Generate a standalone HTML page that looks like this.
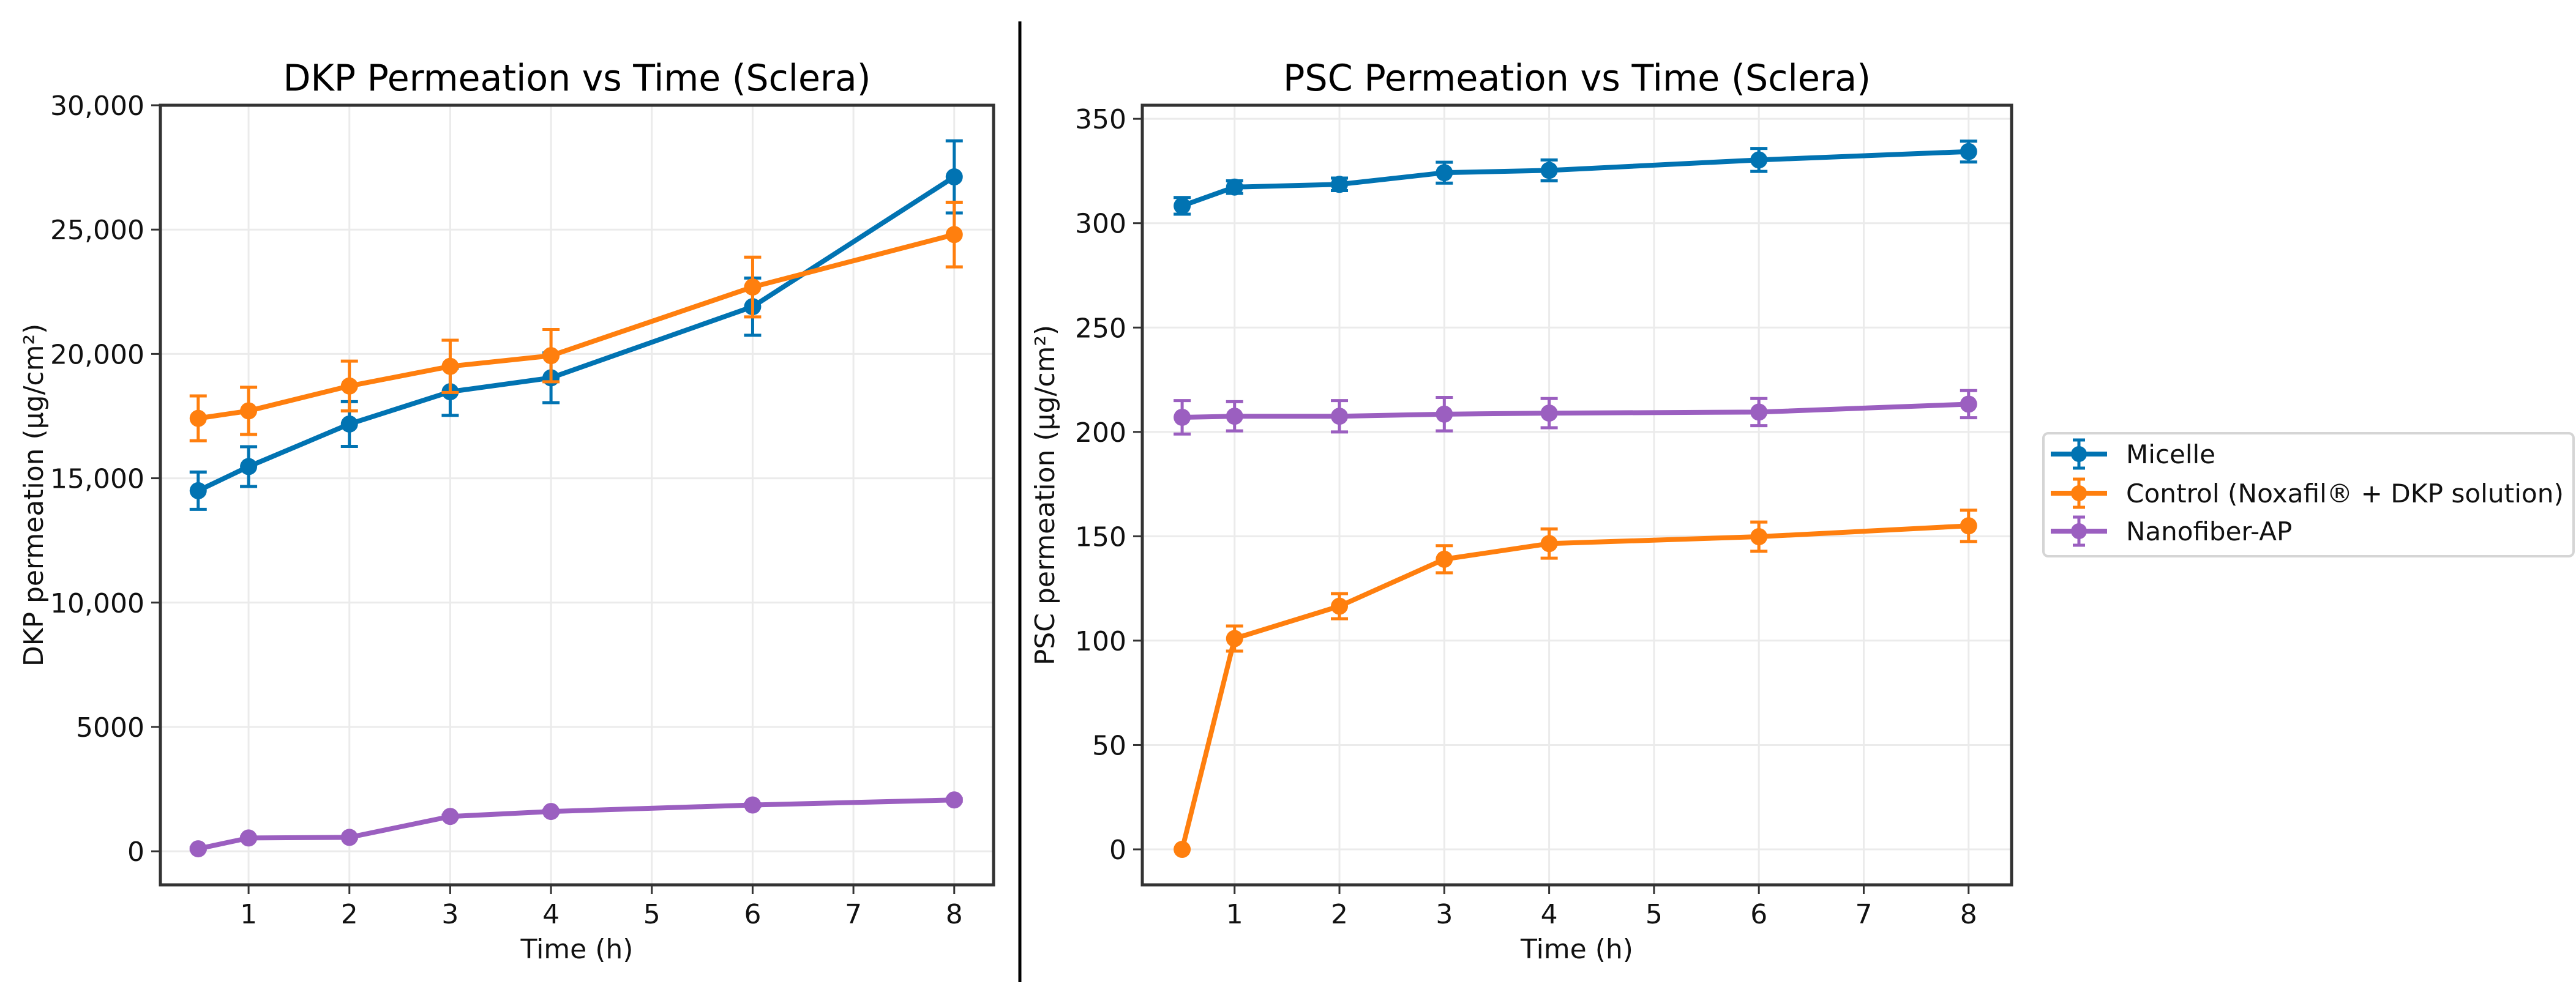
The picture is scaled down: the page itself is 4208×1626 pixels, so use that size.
<!DOCTYPE html>
<html><head><meta charset="utf-8"><style>
html,body{margin:0;padding:0;background:#fff;}
svg{display:block;font-family:"DejaVu Sans","Liberation Sans",sans-serif;}
</style></head><body>
<svg id="fig" width="4208" height="1626" viewBox="0 0 4208 1626">
<rect x="0" y="0" width="4208" height="1626" fill="#fff"/>
<line x1="1666" y1="35" x2="1666" y2="1605" stroke="#000" stroke-width="5"/>
<g id="p1"></g>
<g id="p2"></g>
<g id="legend"></g>
</svg>
<script>
const times = [0.5, 1, 2, 3, 4, 6, 8];
const xTicks = [1, 2, 3, 4, 5, 6, 7, 8];
const seriesNames = ["Micelle", "Control (Noxafil® + DKP solution)", "Nanofiber-AP"];
const colors = ["#0173b2", "#ff7f0e", "#9b5fc0"];
// DKP panel
const dkpMicelle = [14500, 15470, 17180, 18480, 19040, 21900, 27120];
const dkpMicelleErr = [750, 800, 900, 950, 1000, 1150, 1450];
const dkpControl = [17410, 17710, 18710, 19500, 19930, 22690, 24800];
const dkpControlErr = [900, 950, 1000, 1050, 1050, 1200, 1300];
const dkpNano = [100, 535, 560, 1400, 1600, 1860, 2065];
const dkpNanoErr = [40, 40, 40, 50, 50, 50, 50];
const dkpYTicks = [0, 5000, 10000, 15000, 20000, 25000, 30000];
const dkpYTickLabels = ["0", "5000", "10,000", "15,000", "20,000", "25,000", "30,000"];
// PSC panel
const pscMicelle = [308.3, 317.3, 318.6, 324.2, 325.3, 330.3, 334.3];
const pscMicelleErr = [4, 3, 3, 5, 5, 5.5, 5];
const pscControl = [0, 101, 116.5, 139, 146.5, 149.8, 155];
const pscControlErr = [0, 6, 6, 6.5, 7, 7, 7.5];
const pscNano = [207, 207.5, 207.5, 208.5, 209, 209.5, 213.3];
const pscNanoErr = [8, 7, 7.5, 8, 7, 6.5, 6.5];
const pscYTicks = [0, 50, 100, 150, 200, 250, 300, 350];
const pscYTickLabels = ["0", "50", "100", "150", "200", "250", "300", "350"];

const NS = "http://www.w3.org/2000/svg";
function mk(parent, tag, attrs, text) {
  const e = document.createElementNS(NS, tag);
  for (const k in attrs) e.setAttribute(k, attrs[k]);
  if (text !== undefined) e.textContent = text;
  parent.appendChild(e);
  return e;
}

function panel(g, cfg) {
  const L = cfg.left, R = cfg.right, T = 172, B = 1446;
  const xs = v => L + (v - cfg.xmin) / (cfg.xmax - cfg.xmin) * (R - L);
  const ys = v => B - (v - cfg.ymin) / (cfg.ymax - cfg.ymin) * (B - T);
  // grid
  xTicks.forEach(t => {
    const gl = mk(g, "line", {x1: xs(t), x2: xs(t), y1: T, y2: B, stroke: "#ebebeb", "stroke-width": 3});
    
    
  });
  cfg.yTicks.forEach(t => {
    const gl = mk(g, "line", {x1: L, x2: R, y1: ys(t), y2: ys(t), stroke: "#ebebeb", "stroke-width": 3});
    
    
  });
  // series
  cfg.series.forEach((s, si) => {
    const c = colors[si];
    const sg = mk(g, "g", {});
    
    
    s.vals.forEach((v, i) => {
      const e = s.err[i];
      if (e > 0) {
        const x = xs(times[i]);
        const eb = mk(sg, "path", {d: `M${x},${ys(v - e)}V${ys(v + e)}M${x - 14},${ys(v - e)}H${x + 14}M${x - 14},${ys(v + e)}H${x + 14}`, stroke: c, "stroke-width": 5, fill: "none"});
        
        
      }
    });
    const pts = s.vals.map((v, i) => xs(times[i]) + "," + ys(v)).join(" ");
    const pl = mk(sg, "polyline", {points: pts, fill: "none", stroke: c, "stroke-width": 8, "stroke-linejoin": "round"});
    
    
    s.vals.forEach((v, i) => {
      const p = mk(sg, "circle", {cx: xs(times[i]), cy: ys(v), r: 14, fill: c});
      
      
    });
  });
  // frame
  const fr = mk(g, "rect", {x: L, y: T, width: R - L, height: B - T, fill: "none", stroke: "#333", "stroke-width": 5});
  
  
  // x ticks
  xTicks.forEach(t => {
    mk(g, "line", {x1: xs(t), x2: xs(t), y1: B, y2: B + 15, stroke: "#333", "stroke-width": 3});
    const tl = mk(g, "text", {x: xs(t), y: 1509, "font-size": 44, "text-anchor": "middle", fill: "#111"}, String(t));
    
    
  });
  cfg.yTicks.forEach((t, i) => {
    mk(g, "line", {x1: L - 15, x2: L, y1: ys(t), y2: ys(t), stroke: "#333", "stroke-width": 3});
    const tl = mk(g, "text", {x: L - 26, y: ys(t) + 16, "font-size": 44, "text-anchor": "end", fill: "#111"}, cfg.yLabels[i]);
    
    
  });
  const xt = mk(g, "text", {x: (L + R) / 2, y: 1566, "font-size": 44, "text-anchor": "middle", fill: "#111"}, "Time (h)");
  
  
  const yt = mk(g, "text", {x: 0, y: 0, "font-size": 44, "text-anchor": "middle", fill: "#111", transform: `translate(${cfg.ylabX},${(T + B) / 2}) rotate(-90)`}, cfg.ylabel);
  
  
  const ti = mk(g, "text", {x: (L + R) / 2, y: 148, "font-size": 60, "text-anchor": "middle", fill: "#000", textLength: cfg.titleLen, lengthAdjust: "spacingAndGlyphs"}, cfg.title);
  
  
}

panel(document.getElementById("p1"), {
  left: 262, right: 1623, xmin: 0.125, xmax: 8.39, ymin: -1350, ymax: 30000,
  yTicks: dkpYTicks, yLabels: dkpYTickLabels, ylabX: 70,
  ylabel: "DKP permeation (µg/cm²)", title: "DKP Permeation vs Time (Sclera)", titleLen: 960,
  series: [{vals: dkpMicelle, err: dkpMicelleErr}, {vals: dkpControl, err: dkpControlErr}, {vals: dkpNano, err: dkpNanoErr}]
});
panel(document.getElementById("p2"), {
  left: 1866, right: 3286, xmin: 0.12, xmax: 8.41, ymin: -17, ymax: 356.5,
  yTicks: pscYTicks, yLabels: pscYTickLabels, ylabX: 1722,
  ylabel: "PSC permeation (µg/cm²)", title: "PSC Permeation vs Time (Sclera)", titleLen: 960,
  series: [{vals: pscMicelle, err: pscMicelleErr}, {vals: pscControl, err: pscControlErr}, {vals: pscNano, err: pscNanoErr}]
});

// legend
const lg = document.getElementById("legend");
mk(lg, "rect", {x: 3338, y: 708, width: 866, height: 201, rx: 8, fill: "#fff", stroke: "#d5d5d5", "stroke-width": 4});
const legY = [742, 806, 868];
seriesNames.forEach((n, i) => {
  const c = colors[i], y = legY[i];
  const eg = mk(lg, "g", {});
  
  
  mk(eg, "line", {x1: 3350, x2: 3442, y1: y, y2: y, stroke: c, "stroke-width": 8});
  mk(eg, "path", {d: `M3396,${y - 23}V${y + 23}M3386,${y - 23}H3406M3386,${y + 23}H3406`, stroke: c, "stroke-width": 5, fill: "none"});
  mk(eg, "circle", {cx: 3396, cy: y, r: 13, fill: c});
  const t = mk(eg, "text", {x: 3473, y: y + 15, "font-size": 42, fill: "#111"}, n);
  if (i === 1) { t.setAttribute("textLength", 715); t.setAttribute("lengthAdjust", "spacingAndGlyphs"); }
});
</script>
</body></html>
